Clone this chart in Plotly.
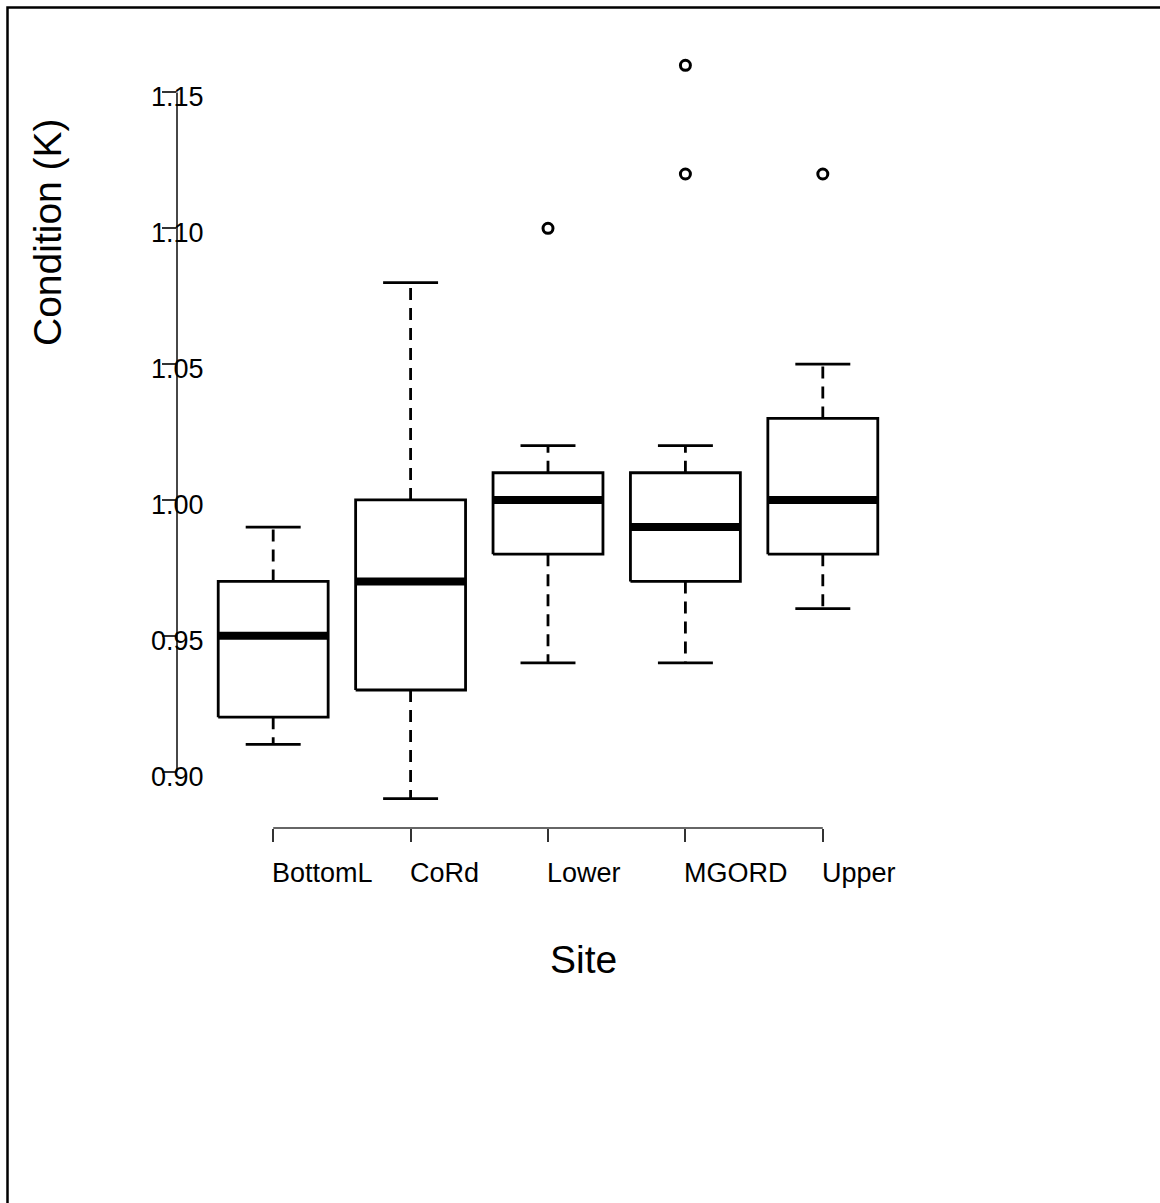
import plotly.graph_objects as go

# ---- data ----
sites = ["BottomL", "CoRd", "Lower", "MGORD", "Upper"]
lower_whisker = [0.91, 0.89, 0.94, 0.94, 0.96]
q1 = [0.92, 0.93, 0.98, 0.97, 0.98]
median = [0.95, 0.97, 1.00, 0.99, 1.00]
q3 = [0.97, 1.00, 1.01, 1.01, 1.03]
upper_whisker = [0.99, 1.08, 1.02, 1.02, 1.05]
outlier_site = ["Lower", "MGORD", "MGORD", "Upper"]
outlier_value = [1.10, 1.16, 1.12, 1.12]
y_ticks = [0.90, 0.95, 1.00, 1.05, 1.10, 1.15]
y_ticktext = ["0.90", "0.95", "1.00", "1.05", "1.10", "1.15"]

FONT = "Liberation Sans, Arial, Helvetica, sans-serif"
BOX_HALF = 0.4
CAP_HALF = 0.2
LW = 2.8
pos = {s: i + 1 for i, s in enumerate(sites)}

fig = go.Figure()

# whiskers (dashed) and caps
for s, lo, a, b, hi in zip(sites, lower_whisker, q1, q3, upper_whisker):
    p = pos[s]
    fig.add_trace(go.Scatter(x=[p, p, None, p, p], y=[b, hi, None, a, lo], mode="lines",
                             line=dict(color="black", width=LW, dash="12px,8px"),
                             hoverinfo="skip", showlegend=False))
    fig.add_trace(go.Scatter(x=[p - CAP_HALF, p + CAP_HALF, None, p - CAP_HALF, p + CAP_HALF],
                             y=[hi, hi, None, lo, lo], mode="lines",
                             line=dict(color="black", width=LW),
                             hoverinfo="skip", showlegend=False))

# boxes
for s, a, b in zip(sites, q1, q3):
    p = pos[s]
    fig.add_trace(go.Scatter(x=[p - BOX_HALF, p + BOX_HALF, p + BOX_HALF, p - BOX_HALF, p - BOX_HALF],
                             y=[a, a, b, b, a], mode="lines",
                             line=dict(color="black", width=LW),
                             hoverinfo="skip", showlegend=False))

# medians (thick)
for s, m in zip(sites, median):
    p = pos[s]
    fig.add_trace(go.Scatter(x=[p - BOX_HALF, p + BOX_HALF], y=[m, m], mode="lines",
                             line=dict(color="black", width=8),
                             hoverinfo="skip", showlegend=False))

# outliers
fig.add_trace(go.Scatter(x=[pos[s] for s in outlier_site], y=outlier_value, mode="markers",
                         marker=dict(symbol="circle-open", size=10, color="black",
                                     line=dict(width=3, color="black")),
                         hoverinfo="skip", showlegend=False))

# R-style axis lines (only between first and last tick)
fig.add_shape(type="line", xref="paper", yref="y", x0=0, x1=0, y0=y_ticks[0], y1=y_ticks[-1],
              line=dict(color="#333333", width=1.8))
fig.add_shape(type="line", xref="x", yref="paper", x0=1, x1=len(sites), y0=0, y1=0,
              line=dict(color="#333333", width=1.5))

# outer border
fig.add_shape(type="rect", xref="paper", yref="paper",
              x0=(7.5 - 177) / 742, x1=(1175 - 177) / 742,
              y0=(828 - 1215) / 792, y1=(828 - 7.5) / 792,
              line=dict(color="black", width=2.5))

# y tick labels centred on the axis line
for v, t in zip(y_ticks, y_ticktext):
    fig.add_annotation(x=0, xref="paper", y=v, yref="y", text=t, showarrow=False,
                       xanchor="center", yanchor="middle", yshift=-5,
                       font=dict(family=FONT, size=27, color="black"))

# x tick labels left-aligned at tick
for s in sites:
    fig.add_annotation(x=pos[s], xref="x", y=-(873 - 828) / 792, yref="paper", text=s,
                       showarrow=False, xanchor="left", yanchor="middle", xshift=-3,
                       font=dict(family=FONT, size=27, color="black"))

# axis titles
fig.add_annotation(x=(583 - 177) / 742, xref="paper", y=-(959 - 828) / 792, yref="paper",
                   text="Site", showarrow=False, xanchor="center", yanchor="middle",
                   font=dict(family=FONT, size=39, color="black"))
fig.add_annotation(x=(47 - 177) / 742, xref="paper", y=(828 - 232) / 792, yref="paper",
                   text="Condition (K)", showarrow=False, textangle=-90,
                   xanchor="center", yanchor="middle",
                   font=dict(family=FONT, size=39, color="black"))

fig.update_xaxes(range=[0.3, 5.7], tickmode="array", tickvals=[pos[s] for s in sites],
                 ticktext=sites, showticklabels=False, ticks="outside", ticklen=13,
                 tickwidth=1.5, tickcolor="#333333", showgrid=False, zeroline=False,
                 showline=False)
fig.update_yaxes(range=[0.8792, 1.1708], tickmode="array", tickvals=y_ticks,
                 ticktext=y_ticktext, showticklabels=False, ticks="outside", ticklen=14,
                 tickwidth=1.5, tickcolor="#333333", showgrid=False, zeroline=False,
                 showline=False)

fig.update_layout(width=1160, height=1203, margin=dict(l=177, r=241, t=36, b=375),
                  plot_bgcolor="white", paper_bgcolor="white",
                  font=dict(family=FONT, color="black"))

fig.write_html("out.html", config={"displayModeBar": False},
               post_script="document.body.style.margin='0';document.body.style.overflow='hidden';")
